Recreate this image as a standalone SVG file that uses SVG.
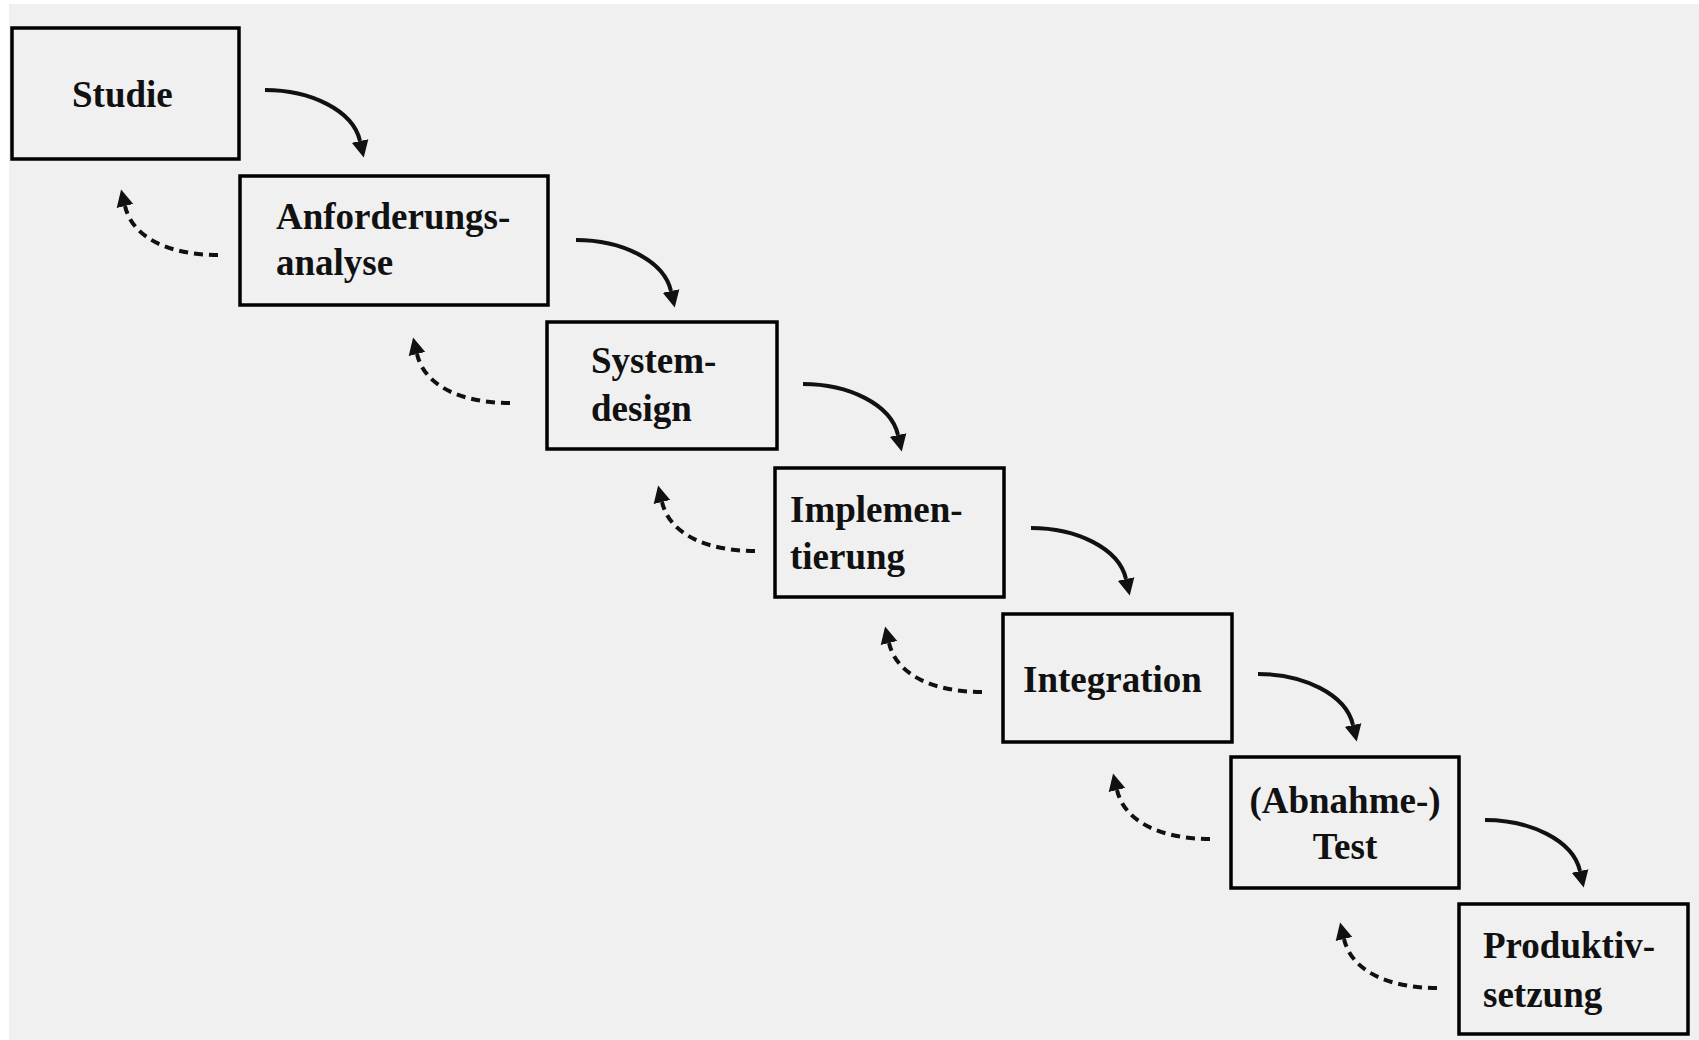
<svg xmlns="http://www.w3.org/2000/svg" width="1699" height="1040" viewBox="0 0 1699 1040">
  <style>
    .box { fill: none; stroke: #000; stroke-width: 3.5; }
    .lbl { font-family: "Liberation Serif", "Times New Roman", serif; font-weight: bold; font-size: 37px; fill: #111; }
    .mid { text-anchor: middle; }
    .fwd { fill: none; stroke: #111; stroke-width: 4; marker-end: url(#head); }
    .back { fill: none; stroke: #111; stroke-width: 4; stroke-dasharray: 9 6; marker-end: url(#head); }
  </style>
  <defs>
    <marker id="head" viewBox="0 -9 17 18" refX="0" refY="0" markerWidth="17" markerHeight="18" markerUnits="userSpaceOnUse" orient="auto">
      <path d="M0,-8.5 L17,0 L0,8.5 Z" fill="#111"/>
    </marker>
  </defs>

  <!-- page background -->
  <rect x="0" y="0" width="1699" height="1040" fill="#ffffff"/>
  <rect x="9" y="4" width="1690" height="1036" fill="#f0f0f0"/>

  <!-- phases -->
  <g id="studie">
    <rect class="box" x="12" y="28" width="227" height="131"/>
    <text class="lbl" x="72" y="107">Studie</text>
  </g>
  <g id="anforderungsanalyse">
    <rect class="box" x="240" y="176" width="308" height="129"/>
    <text class="lbl" x="276" y="229">Anforderungs-</text>
    <text class="lbl" x="276" y="275">analyse</text>
  </g>
  <g id="systemdesign">
    <rect class="box" x="547" y="322" width="230" height="127"/>
    <text class="lbl" x="591" y="373">System-</text>
    <text class="lbl" x="591" y="421">design</text>
  </g>
  <g id="implementierung">
    <rect class="box" x="775" y="468" width="229" height="129"/>
    <text class="lbl" x="790" y="522">Implemen-</text>
    <text class="lbl" x="790" y="569">tierung</text>
  </g>
  <g id="integration">
    <rect class="box" x="1003" y="614" width="229" height="128"/>
    <text class="lbl" x="1023" y="692">Integration</text>
  </g>
  <g id="abnahmetest">
    <rect class="box" x="1231" y="757" width="228" height="131"/>
    <text class="lbl mid" x="1345" y="813">(Abnahme-)</text>
    <text class="lbl mid" x="1345" y="859">Test</text>
  </g>
  <g id="produktivsetzung">
    <rect class="box" x="1459" y="904" width="229" height="130"/>
    <text class="lbl" x="1483" y="958">Produktiv-</text>
    <text class="lbl" x="1483" y="1007">setzung</text>
  </g>

  <!-- forward (solid) and feedback (dashed) connectors -->
  <g id="connectors">
    <path class="fwd" d="M265,90 C310,90 353,110 360,141"/>
    <path class="fwd" d="M576,240 C621,240 664,260 671,291"/>
    <path class="fwd" d="M803,384 C848,384 891,404 898,435"/>
    <path class="fwd" d="M1031,528 C1076,528 1119,548 1126,579"/>
    <path class="fwd" d="M1258,674 C1303,674 1346,694 1353,725"/>
    <path class="fwd" d="M1485,820 C1530,820 1573,840 1580,871"/>

    <path class="back" d="M218,255 C173,255 133,240 125,206"/>
    <path class="back" d="M510,403 C465,403 425,388 417,354"/>
    <path class="back" d="M755,551 C710,551 670,536 662,502"/>
    <path class="back" d="M982,692 C937,692 897,677 889,643"/>
    <path class="back" d="M1210,839 C1165,839 1125,824 1117,790"/>
    <path class="back" d="M1437,988 C1392,988 1352,973 1344,939"/>
  </g>
</svg>
